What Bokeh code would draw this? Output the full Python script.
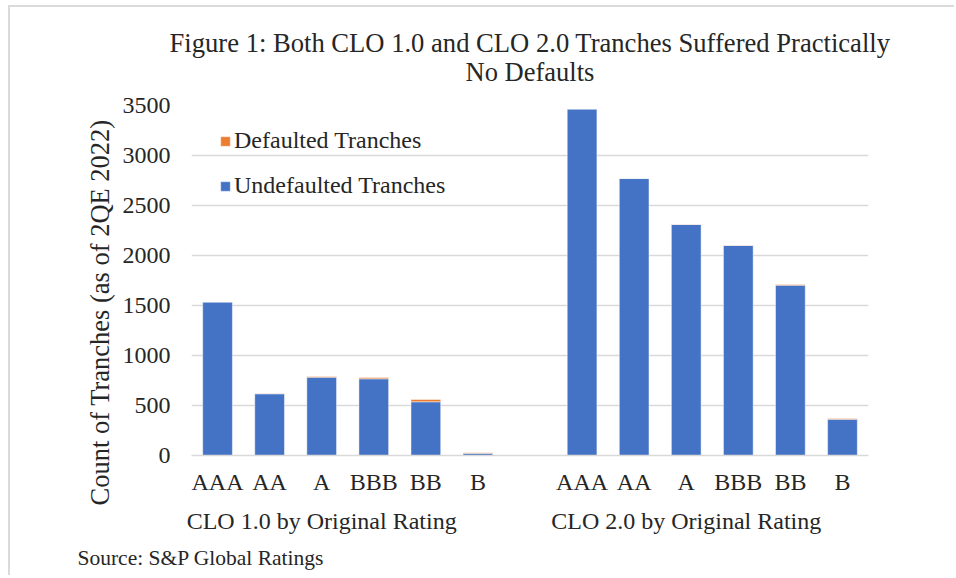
from bokeh.plotting import figure
from bokeh.models import (Range1d, FixedTicker, Legend, LegendItem,
                          Title, ColumnDataSource, LinearAxis)
from bokeh.embed import file_html
from bokeh.resources import INLINE

# ---- data ----
groups = ["CLO 1.0 by Original Rating", "CLO 2.0 by Original Rating"]
ratings = ["AAA", "AA", "A", "BBB", "BB", "B"]
clo1_undefaulted = [1535, 617, 783, 767, 537, 22]
clo1_defaulted = [0, 3, 7, 13, 23, 6]
clo2_undefaulted = [3465, 2770, 2310, 2100, 1703, 362]
clo2_defaulted = [0, 0, 2, 3, 7, 8]
y_ticks = [0, 500, 1000, 1500, 2000, 2500, 3000, 3500]
series_names = ["Undefaulted Tranches", "Defaulted Tranches"]
title_lines = ["Figure 1: Both CLO 1.0 and CLO 2.0 Tranches Suffered Practically", "No Defaults"]
y_label = "Count of Tranches (as of 2QE 2022)"
source_note = "Source: S&P Global Ratings"

FONT = "Liberation Serif"
TXT = "#262626"
BLUE = "#4472C4"
ORANGE = "#ED7D31"
GRID = "#d9d9d9"

# category slots: 6 ratings, one empty slot, 6 ratings
GROUP_PAD = 1
n = len(ratings)
total_units = 2 * n + GROUP_PAD
pos1 = [i + 0.5 for i in range(n)]
pos2 = [n + GROUP_PAD + i + 0.5 for i in range(n)]
group_pos = [sum(pos1) / n - 0.5, sum(pos2) / n - 0.5]

src = ColumnDataSource(dict(
    x=pos1 + pos2,
    undefaulted=clo1_undefaulted + clo2_undefaulted,
    defaulted=clo1_defaulted + clo2_defaulted,
))

p = figure(
    x_range=Range1d(0, total_units),
    y_range=Range1d(0, 3500),
    width=946, height=570,
    output_backend="svg", toolbar_location=None,
    min_border_left=181, min_border_right=88, min_border_top=98, min_border_bottom=122,
)
p.margin = (5, 0, 0, 8)
p.styles = {"border-top": "2px solid #dadada", "border-left": "2px solid #dadada"}

rs = p.vbar_stack(["undefaulted", "defaulted"], x="x", width=0.57, source=src,
                  fill_color=[BLUE, ORANGE], line_color="white", line_alpha=0.45,
                  line_width=1)

p.outline_line_color = None
p.xgrid.grid_line_color = None
p.ygrid.grid_line_color = GRID
p.ygrid.grid_line_width = 1.5

ya = p.yaxis[0]
ya.ticker = FixedTicker(ticks=y_ticks)
ya.axis_line_color = None
ya.major_tick_line_color = None
ya.minor_tick_line_color = None
ya.major_tick_out = 0
ya.major_tick_in = 0
ya.major_label_standoff = 21
ya.major_label_text_font = FONT
ya.major_label_text_font_size = "24px"
ya.major_label_text_color = TXT

xa = p.xaxis[0]
xa.ticker = FixedTicker(ticks=pos1 + pos2)
xa.major_label_overrides = {t: r for t, r in zip(pos1 + pos2, ratings + ratings)}
xa.axis_line_color = GRID
xa.axis_line_width = 1.5
xa.major_tick_line_color = None
xa.minor_tick_line_color = None
xa.major_tick_out = 0
xa.major_tick_in = 0
xa.major_label_standoff = 13
xa.major_label_text_font = FONT
xa.major_label_text_font_size = "24px"
xa.major_label_text_color = TXT

# group captions on a second axis below
ga = LinearAxis(ticker=FixedTicker(ticks=group_pos),
                major_label_overrides={group_pos[0]: groups[0], group_pos[1]: groups[1]})
ga.axis_line_color = None
ga.major_tick_line_color = None
ga.minor_tick_line_color = None
ga.major_tick_out = 0
ga.major_tick_in = 0
ga.major_label_standoff = 10
ga.major_label_text_font = FONT
ga.major_label_text_font_size = "24px"
ga.major_label_text_color = TXT
p.add_layout(ga, "below")

legend = Legend(items=[
    LegendItem(label=series_names[1], renderers=[rs[1]]),
    LegendItem(label=series_names[0], renderers=[rs[0]]),
], location=(28, 256))
legend.background_fill_alpha = 0
legend.border_line_color = None
legend.padding = 0
legend.margin = 0
legend.spacing = 18
legend.glyph_width = 12
legend.glyph_height = 12
legend.label_standoff = 3
legend.label_text_font = FONT
legend.label_text_font_size = "24px"
legend.label_text_color = TXT
p.add_layout(legend)

def mk_title(text, size, **kw):
    return Title(text=text, text_font=FONT, text_font_size=size, text_font_style="normal",
                 text_color=TXT, **kw)

p.add_layout(mk_title(title_lines[1], "26.5px", align="center", standoff=37), "above")
p.add_layout(mk_title(title_lines[0], "26.6px", align="center", standoff=-42), "above")
p.add_layout(mk_title(y_label, "26.5px", align="left", offset=-50, standoff=10), "left")
p.add_layout(mk_title(source_note, "21.5px", align="left", offset=-114, standoff=14), "below")

open("out.html", "w").write(file_html(p, INLINE))
